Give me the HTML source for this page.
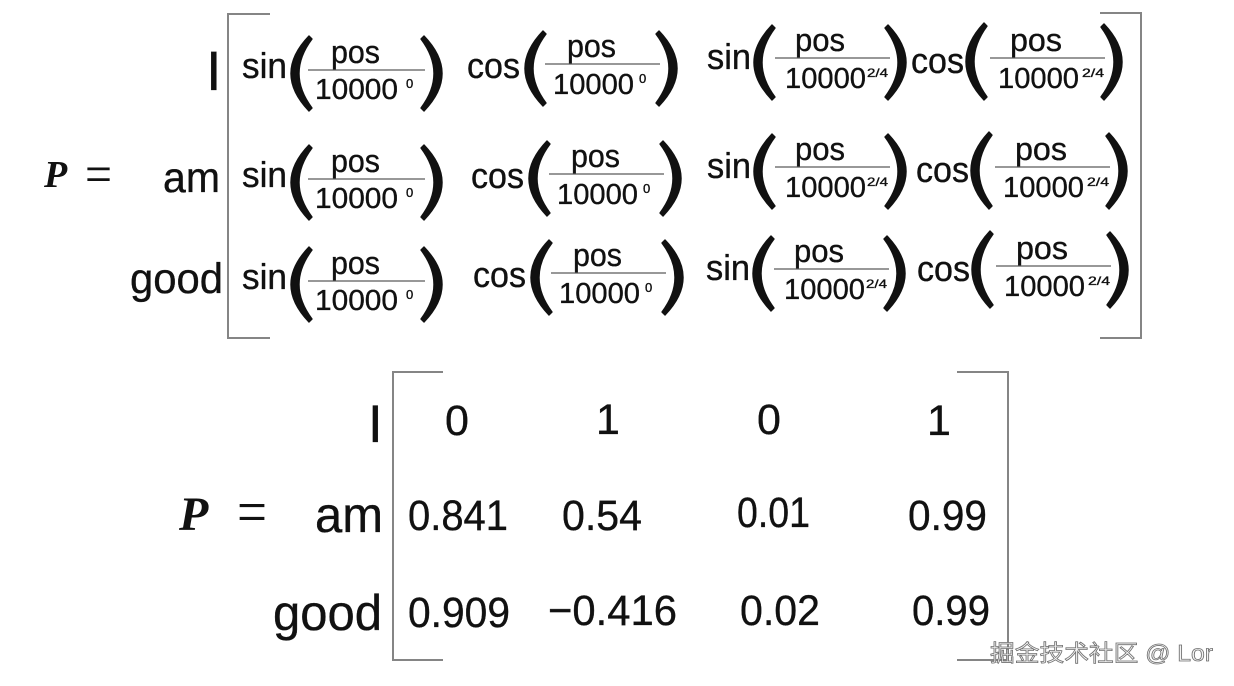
<!DOCTYPE html>
<html>
<head>
<meta charset="utf-8">
<style>
  html,body{margin:0;padding:0;background:#fff;}
  svg{display:block;}
  .t{font-family:"Liberation Sans","Noto Sans CJK SC",sans-serif;fill:#111;stroke:#111;stroke-width:0.35;}
  .s{font-family:"Liberation Serif",serif;fill:#111;}
  .fl{stroke:#8a8a8a;stroke-width:1.8;}
  .br{fill:none;stroke:#858585;stroke-width:2;}
  .p{fill:#111;stroke:#111;stroke-width:1.4;stroke-linejoin:round;}
</style>
</head>
<body>
<svg width="1234" height="686" viewBox="0 0 1234 686" xmlns="http://www.w3.org/2000/svg">
  <rect width="1234" height="686" fill="#fff"/>

  <!-- ===== TOP MATRIX ===== -->
  <text class="s" x="44" y="187" font-size="38" font-weight="bold" font-style="italic">P</text>
  <text class="s" x="85" y="192" font-size="54" textLength="27" lengthAdjust="spacingAndGlyphs">=</text>

  <text class="t" x="206" y="90" font-size="56">I</text>
  <text class="t" x="163" y="192" font-size="43" textLength="57" lengthAdjust="spacingAndGlyphs">am</text>
  <text class="t" x="130" y="293" font-size="43" textLength="93" lengthAdjust="spacingAndGlyphs">good</text>

  <polyline class="br" points="270,14 228,14 228,338 270,338"/>
  <polyline class="br" points="1100,13 1141,13 1141,338 1100,338"/>

  <!-- Column 1 (line y=70) -->
  <g>
    <text class="t" x="242" y="78" font-size="36" textLength="45" lengthAdjust="spacingAndGlyphs">sin</text>
    <path class="p" transform="translate(289,36)" d="M20,0 Q-16,37.5 20,75 L23,72 Q-3,37.5 23,3 Z"/>
    <line class="fl" x1="308" y1="70" x2="425" y2="70"/>
    <text class="t" x="331" y="63" font-size="32" textLength="49" lengthAdjust="spacingAndGlyphs">pos</text>
    <text class="t" x="315" y="99" font-size="29" textLength="83" lengthAdjust="spacingAndGlyphs">10000</text>
    <text class="t" x="406" y="88" font-size="13">0</text>
    <path class="p" transform="translate(422,36)" d="M2,0 Q38,37.5 2,75 L-1,72 Q25,37.5 -1,3 Z"/>
  </g>
  <g transform="translate(0,109)">
    <text class="t" x="242" y="78" font-size="36" textLength="45" lengthAdjust="spacingAndGlyphs">sin</text>
    <path class="p" transform="translate(289,36)" d="M20,0 Q-16,37.5 20,75 L23,72 Q-3,37.5 23,3 Z"/>
    <line class="fl" x1="308" y1="70" x2="425" y2="70"/>
    <text class="t" x="331" y="63" font-size="32" textLength="49" lengthAdjust="spacingAndGlyphs">pos</text>
    <text class="t" x="315" y="99" font-size="29" textLength="83" lengthAdjust="spacingAndGlyphs">10000</text>
    <text class="t" x="406" y="88" font-size="13">0</text>
    <path class="p" transform="translate(422,36)" d="M2,0 Q38,37.5 2,75 L-1,72 Q25,37.5 -1,3 Z"/>
  </g>
  <g transform="translate(0,211)">
    <text class="t" x="242" y="78" font-size="36" textLength="45" lengthAdjust="spacingAndGlyphs">sin</text>
    <path class="p" transform="translate(289,36)" d="M20,0 Q-16,37.5 20,75 L23,72 Q-3,37.5 23,3 Z"/>
    <line class="fl" x1="308" y1="70" x2="425" y2="70"/>
    <text class="t" x="331" y="63" font-size="32" textLength="49" lengthAdjust="spacingAndGlyphs">pos</text>
    <text class="t" x="315" y="99" font-size="29" textLength="83" lengthAdjust="spacingAndGlyphs">10000</text>
    <text class="t" x="406" y="88" font-size="13">0</text>
    <path class="p" transform="translate(422,36)" d="M2,0 Q38,37.5 2,75 L-1,72 Q25,37.5 -1,3 Z"/>
  </g>

  <!-- Column 2 (line y=64) -->
  <g>
    <text class="t" x="467" y="78" font-size="36" textLength="53" lengthAdjust="spacingAndGlyphs">cos</text>
    <path class="p" transform="translate(523,31)" d="M20,0 Q-16,37.5 20,75 L23,72 Q-3,37.5 23,3 Z"/>
    <line class="fl" x1="545" y1="64" x2="660" y2="64"/>
    <text class="t" x="567" y="57" font-size="32" textLength="49" lengthAdjust="spacingAndGlyphs">pos</text>
    <text class="t" x="553" y="94" font-size="29" textLength="81" lengthAdjust="spacingAndGlyphs">10000</text>
    <text class="t" x="639" y="83" font-size="13">0</text>
    <path class="p" transform="translate(657,31)" d="M2,0 Q38,37.5 2,75 L-1,72 Q25,37.5 -1,3 Z"/>
  </g>
  <g transform="translate(4,110)">
    <text class="t" x="467" y="78" font-size="36" textLength="53" lengthAdjust="spacingAndGlyphs">cos</text>
    <path class="p" transform="translate(523,31)" d="M20,0 Q-16,37.5 20,75 L23,72 Q-3,37.5 23,3 Z"/>
    <line class="fl" x1="545" y1="64" x2="660" y2="64"/>
    <text class="t" x="567" y="57" font-size="32" textLength="49" lengthAdjust="spacingAndGlyphs">pos</text>
    <text class="t" x="553" y="94" font-size="29" textLength="81" lengthAdjust="spacingAndGlyphs">10000</text>
    <text class="t" x="639" y="83" font-size="13">0</text>
    <path class="p" transform="translate(657,31)" d="M2,0 Q38,37.5 2,75 L-1,72 Q25,37.5 -1,3 Z"/>
  </g>
  <g transform="translate(6,209)">
    <text class="t" x="467" y="78" font-size="36" textLength="53" lengthAdjust="spacingAndGlyphs">cos</text>
    <path class="p" transform="translate(523,31)" d="M20,0 Q-16,37.5 20,75 L23,72 Q-3,37.5 23,3 Z"/>
    <line class="fl" x1="545" y1="64" x2="660" y2="64"/>
    <text class="t" x="567" y="57" font-size="32" textLength="49" lengthAdjust="spacingAndGlyphs">pos</text>
    <text class="t" x="553" y="94" font-size="29" textLength="81" lengthAdjust="spacingAndGlyphs">10000</text>
    <text class="t" x="639" y="83" font-size="13">0</text>
    <path class="p" transform="translate(657,31)" d="M2,0 Q38,37.5 2,75 L-1,72 Q25,37.5 -1,3 Z"/>
  </g>

  <!-- Column 3 (line y=58) -->
  <g>
    <text class="t" x="707" y="69" font-size="36" textLength="44" lengthAdjust="spacingAndGlyphs">sin</text>
    <path class="p" transform="translate(752,25)" d="M20,0 Q-16,37.5 20,75 L23,72 Q-3,37.5 23,3 Z"/>
    <line class="fl" x1="775" y1="58" x2="890" y2="58"/>
    <text class="t" x="795" y="51" font-size="32" textLength="50" lengthAdjust="spacingAndGlyphs">pos</text>
    <text class="t" x="785" y="88" font-size="29" textLength="81" lengthAdjust="spacingAndGlyphs">10000</text>
    <text class="t" x="867" y="77" font-size="12" textLength="21" lengthAdjust="spacingAndGlyphs">2/4</text>
    <path class="p" transform="translate(886,25)" d="M2,0 Q38,37.5 2,75 L-1,72 Q25,37.5 -1,3 Z"/>
  </g>
  <g transform="translate(0,109)">
    <text class="t" x="707" y="69" font-size="36" textLength="44" lengthAdjust="spacingAndGlyphs">sin</text>
    <path class="p" transform="translate(752,25)" d="M20,0 Q-16,37.5 20,75 L23,72 Q-3,37.5 23,3 Z"/>
    <line class="fl" x1="775" y1="58" x2="890" y2="58"/>
    <text class="t" x="795" y="51" font-size="32" textLength="50" lengthAdjust="spacingAndGlyphs">pos</text>
    <text class="t" x="785" y="88" font-size="29" textLength="81" lengthAdjust="spacingAndGlyphs">10000</text>
    <text class="t" x="867" y="77" font-size="12" textLength="21" lengthAdjust="spacingAndGlyphs">2/4</text>
    <path class="p" transform="translate(886,25)" d="M2,0 Q38,37.5 2,75 L-1,72 Q25,37.5 -1,3 Z"/>
  </g>
  <g transform="translate(-1,211)">
    <text class="t" x="707" y="69" font-size="36" textLength="44" lengthAdjust="spacingAndGlyphs">sin</text>
    <path class="p" transform="translate(752,25)" d="M20,0 Q-16,37.5 20,75 L23,72 Q-3,37.5 23,3 Z"/>
    <line class="fl" x1="775" y1="58" x2="890" y2="58"/>
    <text class="t" x="795" y="51" font-size="32" textLength="50" lengthAdjust="spacingAndGlyphs">pos</text>
    <text class="t" x="785" y="88" font-size="29" textLength="81" lengthAdjust="spacingAndGlyphs">10000</text>
    <text class="t" x="867" y="77" font-size="12" textLength="21" lengthAdjust="spacingAndGlyphs">2/4</text>
    <path class="p" transform="translate(886,25)" d="M2,0 Q38,37.5 2,75 L-1,72 Q25,37.5 -1,3 Z"/>
  </g>

  <!-- Column 4 (line y=58) -->
  <g>
    <text class="t" x="911" y="73" font-size="36" textLength="53" lengthAdjust="spacingAndGlyphs">cos</text>
    <path class="p" transform="translate(964,23) scale(1,1.027)" d="M20,0 Q-16,37.5 20,75 L23,72 Q-3,37.5 23,3 Z"/>
    <line class="fl" x1="990" y1="58" x2="1105" y2="58"/>
    <text class="t" x="1010" y="51" font-size="32" textLength="52" lengthAdjust="spacingAndGlyphs">pos</text>
    <text class="t" x="998" y="88" font-size="29" textLength="81" lengthAdjust="spacingAndGlyphs">10000</text>
    <text class="t" x="1082" y="77" font-size="12" textLength="22" lengthAdjust="spacingAndGlyphs">2/4</text>
    <path class="p" transform="translate(1102,24) scale(1,1.013)" d="M2,0 Q38,37.5 2,75 L-1,72 Q25,37.5 -1,3 Z"/>
  </g>
  <g transform="translate(5,109)">
    <text class="t" x="911" y="73" font-size="36" textLength="53" lengthAdjust="spacingAndGlyphs">cos</text>
    <path class="p" transform="translate(964,23) scale(1,1.027)" d="M20,0 Q-16,37.5 20,75 L23,72 Q-3,37.5 23,3 Z"/>
    <line class="fl" x1="990" y1="58" x2="1105" y2="58"/>
    <text class="t" x="1010" y="51" font-size="32" textLength="52" lengthAdjust="spacingAndGlyphs">pos</text>
    <text class="t" x="998" y="88" font-size="29" textLength="81" lengthAdjust="spacingAndGlyphs">10000</text>
    <text class="t" x="1082" y="77" font-size="12" textLength="22" lengthAdjust="spacingAndGlyphs">2/4</text>
    <path class="p" transform="translate(1102,24) scale(1,1.013)" d="M2,0 Q38,37.5 2,75 L-1,72 Q25,37.5 -1,3 Z"/>
  </g>
  <g transform="translate(6,208)">
    <text class="t" x="911" y="73" font-size="36" textLength="53" lengthAdjust="spacingAndGlyphs">cos</text>
    <path class="p" transform="translate(964,23) scale(1,1.027)" d="M20,0 Q-16,37.5 20,75 L23,72 Q-3,37.5 23,3 Z"/>
    <line class="fl" x1="990" y1="58" x2="1105" y2="58"/>
    <text class="t" x="1010" y="51" font-size="32" textLength="52" lengthAdjust="spacingAndGlyphs">pos</text>
    <text class="t" x="998" y="88" font-size="29" textLength="81" lengthAdjust="spacingAndGlyphs">10000</text>
    <text class="t" x="1082" y="77" font-size="12" textLength="22" lengthAdjust="spacingAndGlyphs">2/4</text>
    <path class="p" transform="translate(1102,24) scale(1,1.013)" d="M2,0 Q38,37.5 2,75 L-1,72 Q25,37.5 -1,3 Z"/>
  </g>

  <!-- ===== BOTTOM MATRIX ===== -->
  <text class="s" x="179" y="530" font-size="48" font-weight="bold" font-style="italic">P</text>
  <text class="s" x="237" y="533" font-size="64" textLength="30" lengthAdjust="spacingAndGlyphs">=</text>

  <text class="t" x="368" y="442" font-size="53">I</text>
  <text class="t" x="315" y="532" font-size="50" textLength="68" lengthAdjust="spacingAndGlyphs">am</text>
  <text class="t" x="273" y="630" font-size="50" textLength="109" lengthAdjust="spacingAndGlyphs">good</text>

  <polyline class="br" points="443,372 393,372 393,660 443,660"/>
  <polyline class="br" points="957,372 1008,372 1008,660 957,660"/>

  <!-- row 1 -->
  <text class="t" x="457" y="435" font-size="43" text-anchor="middle">0</text>
  <text class="t" x="608" y="434" font-size="43" text-anchor="middle">1</text>
  <text class="t" x="769" y="434" font-size="43" text-anchor="middle">0</text>
  <text class="t" x="939" y="435" font-size="43" text-anchor="middle">1</text>
  <!-- row 2 -->
  <text class="t" x="408" y="530" font-size="43" textLength="100" lengthAdjust="spacingAndGlyphs">0.841</text>
  <text class="t" x="562" y="530" font-size="43" textLength="80" lengthAdjust="spacingAndGlyphs">0.54</text>
  <text class="t" x="737" y="527" font-size="43" textLength="73" lengthAdjust="spacingAndGlyphs">0.01</text>
  <text class="t" x="908" y="530" font-size="43" textLength="79" lengthAdjust="spacingAndGlyphs">0.99</text>
  <!-- row 3 -->
  <text class="t" x="408" y="627" font-size="43" textLength="102" lengthAdjust="spacingAndGlyphs">0.909</text>
  <text class="t" x="548" y="625" font-size="43" textLength="129" lengthAdjust="spacingAndGlyphs">−0.416</text>
  <text class="t" x="740" y="625" font-size="43" textLength="80" lengthAdjust="spacingAndGlyphs">0.02</text>
  <text class="t" x="912" y="625" font-size="43" textLength="78" lengthAdjust="spacingAndGlyphs">0.99</text>

  <!-- watermark -->
  <text x="990" y="661" font-family="'Liberation Sans','Noto Sans CJK SC',sans-serif" font-size="23" fill="#f4f4f4" stroke="#707070" stroke-width="0.8" textLength="223" lengthAdjust="spacingAndGlyphs">掘金技术社区 @ Lor</text>
</svg>
</body>
</html>
